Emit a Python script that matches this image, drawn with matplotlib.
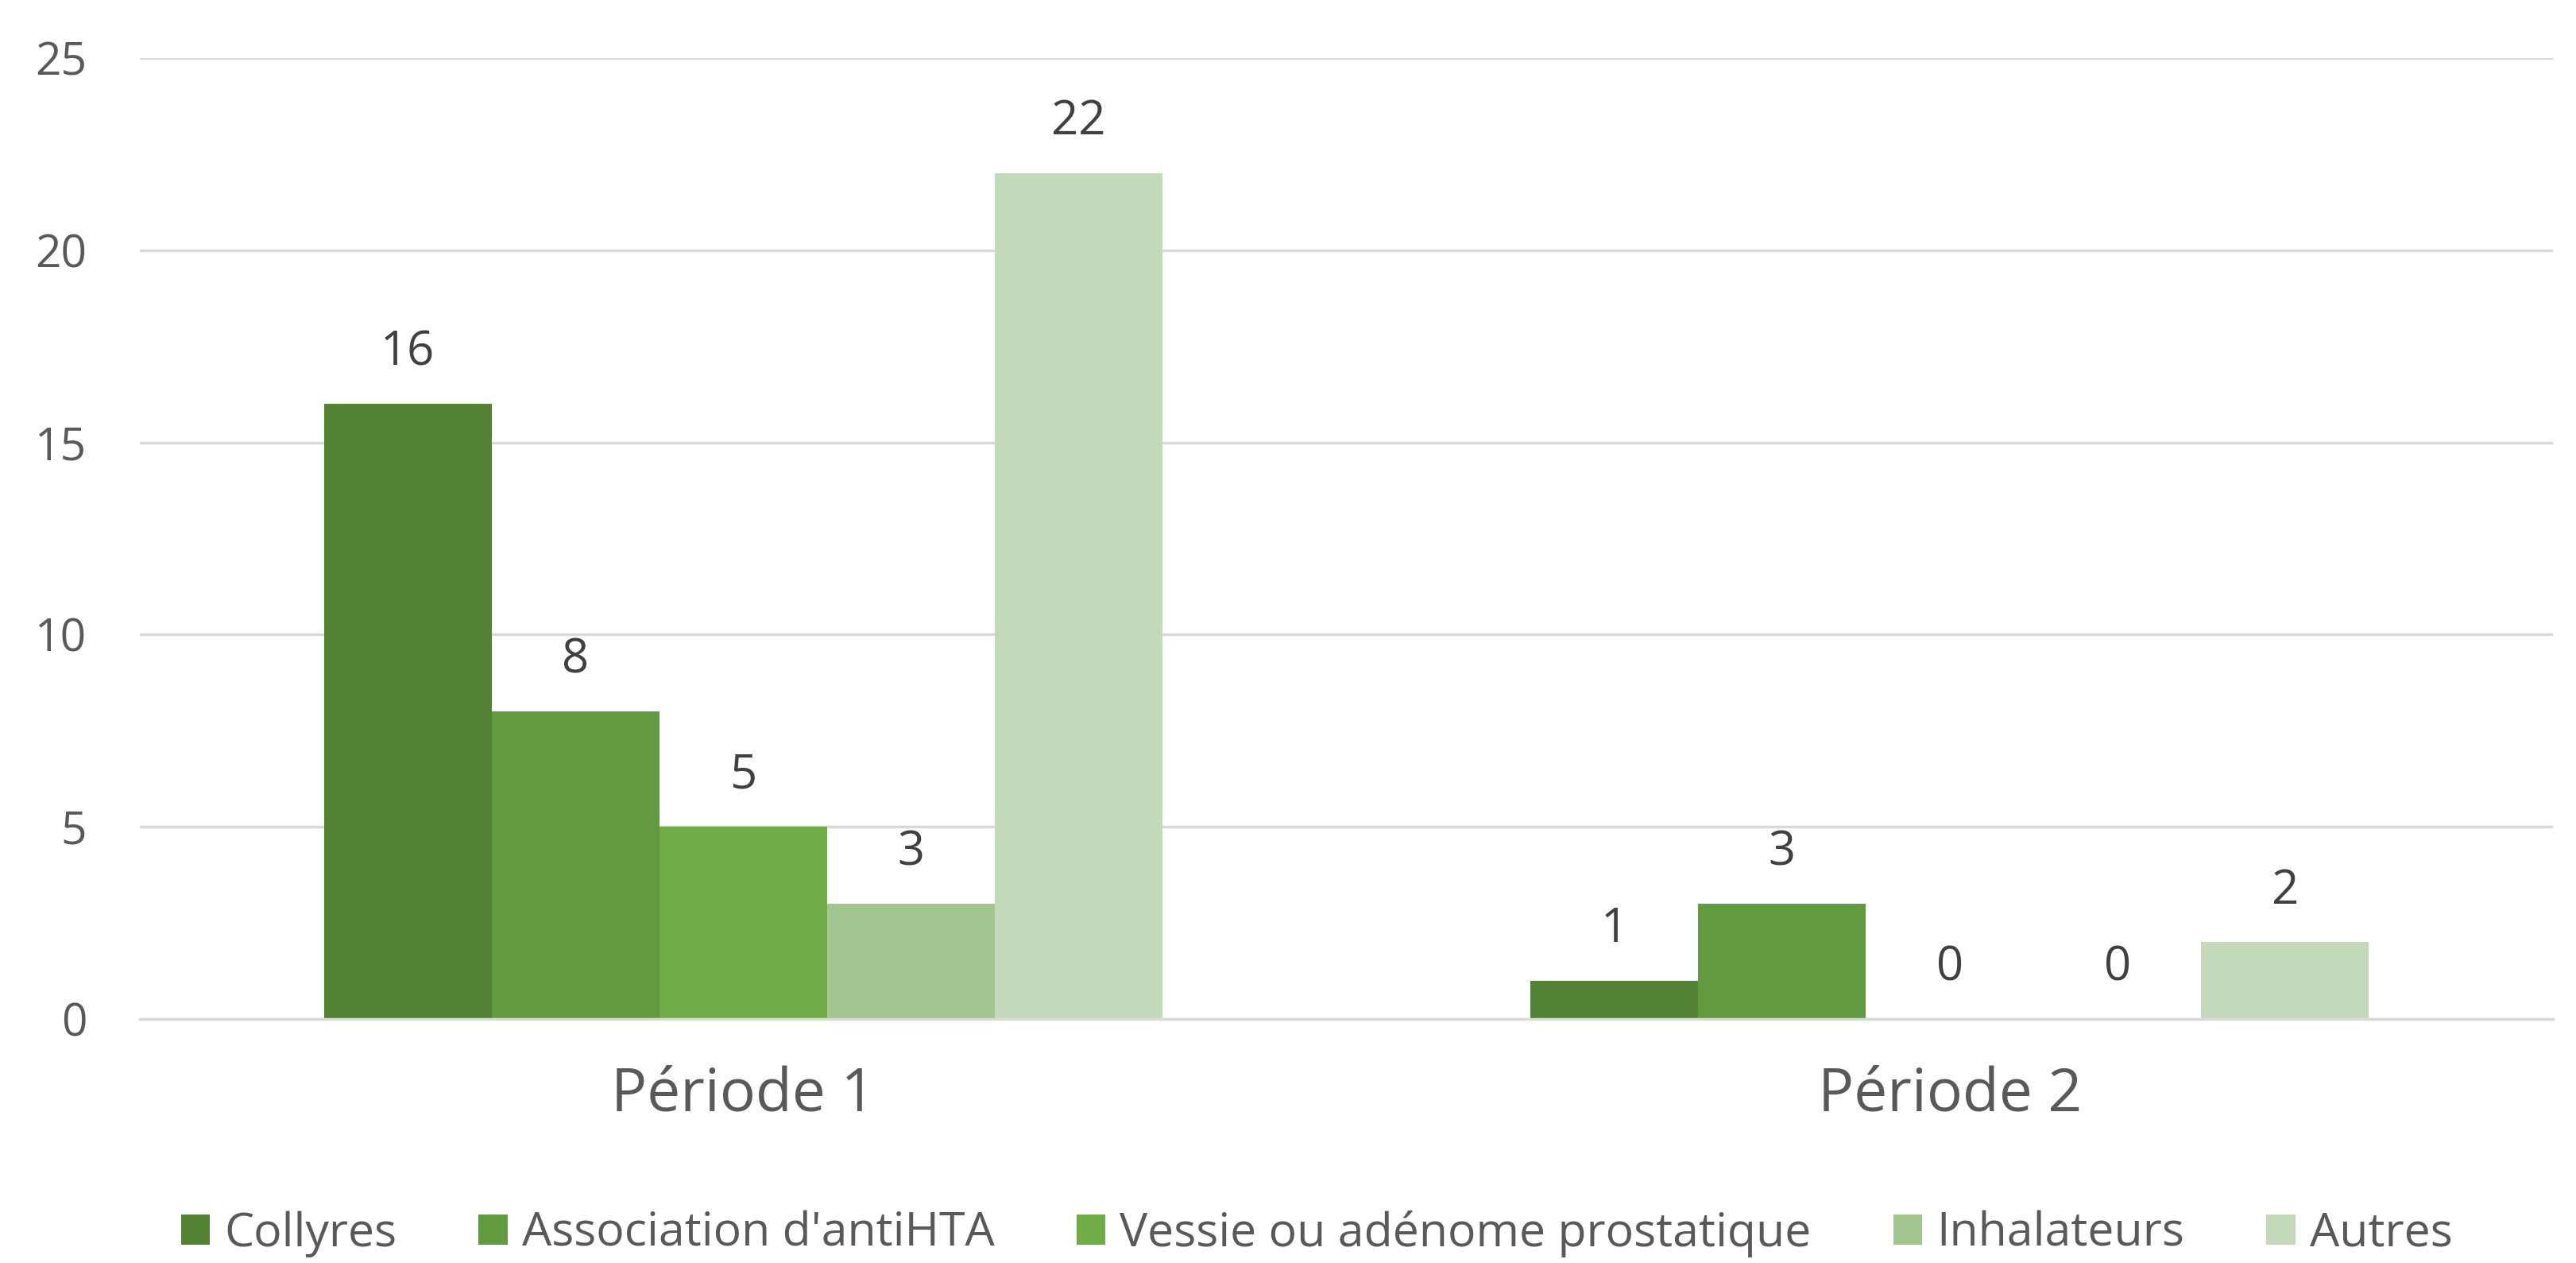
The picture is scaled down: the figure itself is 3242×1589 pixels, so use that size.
import matplotlib
matplotlib.use("Agg")
import matplotlib.pyplot as plt
import numpy as np

categories = ["Période 1", "Période 2"]
series_names = ["Collyres", "Association d'antiHTA", "Vessie ou adénome prostatique", "Inhalateurs", "Autres"]
series_values = [
    [16, 1],
    [8, 3],
    [5, 0],
    [3, 0],
    [22, 2],
]
colors = ["#548235", "#629B3F", "#70AD47", "#A3C590", "#C4D8BA"]
yticks = [0, 5, 10, 15, 20, 25]

plt.rcParams['font.family'] = ['Open Sans', 'DejaVu Sans']
text_color = "#595959"

fig = plt.figure(figsize=(32.42, 15.89), dpi=100)
ax = fig.add_axes([176/3242, 1 - 1282/1589, (3213-176)/3242, (1282-73)/1589])

n = len(series_names)
x = np.arange(len(categories))
group_w = 0.695
bw = group_w / n
for i, (name, vals, c) in enumerate(zip(series_names, series_values, colors)):
    pos = x - group_w/2 + bw*(i + 0.5)
    ax.bar(pos, vals, width=bw, color=c, label=name, zorder=2)
    for p, v in zip(pos, vals):
        ax.annotate(str(v), (p, v), xytext=(0, 35), textcoords="offset points",
                    ha="center", va="baseline", fontsize=43, color="#404040")

ax.set_xlim(-0.5, 1.5)
ax.set_ylim(0, 25)
ax.set_yticks(yticks)
ax.yaxis.grid(True, color="#D9D9D9", linewidth=2.5, zorder=0)
ax.set_axisbelow(True)
for s in ["top", "right", "left"]:
    ax.spines[s].set_visible(False)
ax.spines["bottom"].set_color("#D9D9D9")
ax.spines["bottom"].set_linewidth(2.5)
ax.tick_params(axis="y", length=0, labelsize=41, labelcolor=text_color, pad=48)
ax.tick_params(axis="x", length=0, labelsize=54, labelcolor=text_color, pad=42)
ax.set_xticks(x)
ax.set_xticklabels(categories)

leg = fig.legend(loc="center", bbox_to_anchor=(1657/3242, 1 - 1552/1589), ncol=5,
                 frameon=False, fontsize=42.5, handlelength=0.62, handleheight=0.62,
                 handletextpad=0.3, columnspacing=1.75, labelcolor=text_color)

fig.savefig("out.png", dpi=100, facecolor="white")
